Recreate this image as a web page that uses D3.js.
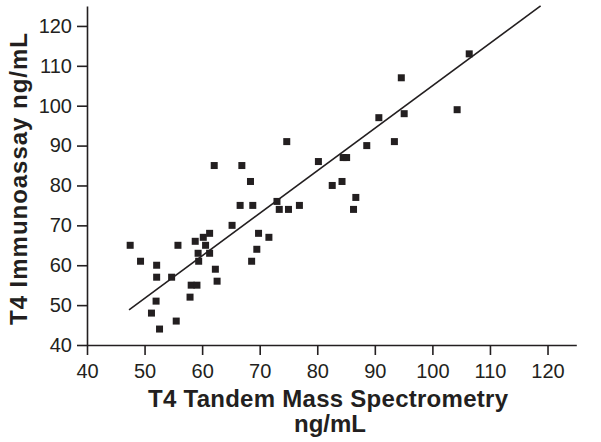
<!DOCTYPE html>
<html><head><meta charset="utf-8">
<script src="https://cdn.jsdelivr.net/npm/d3@7"></script>
<style>
html,body{margin:0;padding:0;background:#fff;}
svg{display:block;}
text{font-family:"Liberation Sans",Arial,sans-serif;fill:#231f20;}
</style></head>
<body>
<svg id="c" width="601" height="442"></svg>
<script>
// T4 Tandem Mass Spectrometry (ng/mL)
const msValues = [47.5,49.3,52.1,52.1,52.0,51.2,52.6,54.7,55.8,55.5,57.9,58.1,59.1,58.8,59.3,59.4,60.2,60.6,61.3,61.3,62.3,62.6,62.1,65.2,66.6,66.9,68.4,68.6,68.8,69.5,69.8,71.6,73.0,73.4,74.7,75.0,76.9,80.2,82.6,84.3,84.5,85.1,86.7,86.3,88.6,90.7,93.4,94.6,95.1,104.3,106.4];
// T4 Immunoassay (ng/mL)
const iaValues = [65,61,60,57,51,48,44,57,65,46,52,55,55,66,63,61,67,65,63,68,59,56,85,70,75,85,81,61,75,64,68,67,76,74,91,74,75,86,80,81,87,87,77,74,90,97,91,107,98,99,113];
const xTicks = [40,50,60,70,80,90,100,110,120];
const yTicks = [40,50,60,70,80,90,100,110,120];
const fitSlope = 1.066, fitIntercept = -1.6;
const fitRange = [47.3, 118.8];
const xTitle = ["T4 Tandem Mass Spectrometry","ng/mL"];
const yTitle = "T4 Immunoassay ng/mL";

const svg = d3.select("#c");
const ink = "#231f20";
const x = d3.scaleLinear().domain([40,125]).range([87,576.3]);
const y = d3.scaleLinear().domain([40,125]).range([345,6]);

const gx = svg.append("g").attr("transform",`translate(0,${y(40)})`)
  .call(d3.axisBottom(x).tickValues(xTicks).tickSize(10).tickSizeOuter(0).tickPadding(9));
const gy = svg.append("g").attr("transform",`translate(${x(40)},0)`)
  .call(d3.axisLeft(y).tickValues(yTicks).tickSize(10).tickSizeOuter(0).tickPadding(5));
[gx,gy].forEach(g=>{
  g.select(".domain").attr("stroke",ink).attr("stroke-width",1.6);
  g.selectAll(".tick line").attr("stroke",ink).attr("stroke-width",1.6);
  g.selectAll(".tick text").attr("fill",ink).style("font-size","20px").style("font-family","Liberation Sans, Arial, sans-serif");
});

// regression line
svg.append("line")
  .attr("x1",x(fitRange[0])).attr("y1",y(fitSlope*fitRange[0]+fitIntercept))
  .attr("x2",x(fitRange[1])).attr("y2",y(fitSlope*fitRange[1]+fitIntercept))
  .attr("stroke",ink).attr("stroke-width",1.6);

const s = 7;
svg.append("g").selectAll("rect").data(msValues.map((v,i)=>[v,iaValues[i]]))
  .join("rect")
  .attr("x",d=>x(d[0])-s/2).attr("y",d=>y(d[1])-s/2)
  .attr("width",s).attr("height",s).attr("fill",ink);

svg.append("text").attr("x",328).attr("y",407).attr("text-anchor","middle")
  .attr("textLength",360)
  .style("font-size","24px").style("font-weight","bold").text(xTitle[0]);
svg.append("text").attr("x",330).attr("y",432).attr("text-anchor","middle")
  .style("font-size","24px").style("font-weight","bold").text(xTitle[1]);
svg.append("text").attr("transform","translate(27,179) rotate(-90)").attr("text-anchor","middle")
  .attr("textLength",292)
  .style("font-size","24px").style("font-weight","bold").text(yTitle);
</script>
</body></html>
